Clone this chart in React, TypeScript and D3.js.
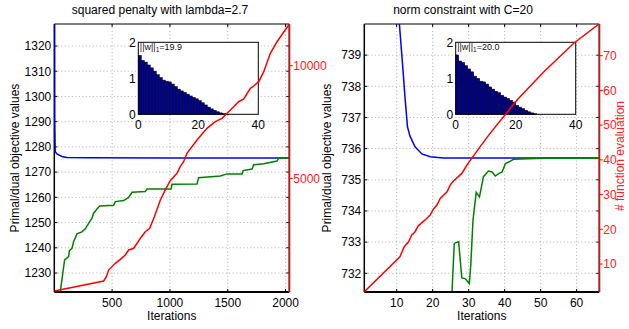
import React from "react";
import * as d3 from "d3";

// ---- data ----
// left panel: squared penalty
const penIter = [1, 4, 8, 23, 66, 110, 300, 1000, 2032];
const penPrimal = [1400, 1290, 1278.1, 1277.2, 1276.2, 1275.8, 1275.7, 1275.6, 1275.6];
const penDualIter = [48, 52, 89, 124, 130, 153, 167, 196, 239, 268, 297, 326, 340, 369, 392, 513, 528, 600, 643, 672, 787, 802, 1009, 1018, 1234, 1248, 1436, 1494, 1624, 1632, 1710, 1724, 1810, 1926, 1940, 2032];
const penDual = [1220, 1222.6, 1235.2, 1236.5, 1238.8, 1239.8, 1242.4, 1245.5, 1246.3, 1247.5, 1249.7, 1251.7, 1253.7, 1255.4, 1256.6, 1256.9, 1258.3, 1258.7, 1260, 1262, 1262.3, 1263.3, 1263.3, 1265.2, 1265.3, 1267.8, 1268.5, 1269.3, 1269.3, 1270.6, 1271.2, 1272.9, 1273.3, 1274.4, 1275.5, 1275.6];
const penEvalIter = [1, 427, 450, 470, 528, 571, 614, 643, 686, 716, 744, 787, 825, 865, 917, 966, 1003, 1061, 1090, 1118, 1147, 1234, 1320, 1392, 1450, 1494, 1551, 1594, 1638, 1696, 1724, 1768, 1811, 1868, 1926, 2032];
const penEval = [0, 440, 630, 925, 1225, 1403, 1594, 1816, 1892, 2114, 2336, 2629, 2780, 3295, 4036, 4556, 4893, 5222, 5530, 5737, 6110, 6700, 7220, 7514, 7664, 7886, 8180, 8401, 8521, 8996, 9098, 9290, 9734, 10550, 11066, 11850];
const penWeights = [1.64, 1.5, 1.45, 1.37, 1.29, 1.2, 1.1, 1.02, 0.95, 0.92, 0.9, 0.84, 0.77, 0.7, 0.65, 0.61, 0.56, 0.51, 0.47, 0.43, 0.38, 0.32, 0.26, 0.2, 0.15, 0.11, 0.07, 0.04, 0.02, 0.01];
const penXTicks = [500, 1000, 1500, 2000];
const penYTicks = [1230, 1240, 1250, 1260, 1270, 1280, 1290, 1300, 1310, 1320];
const penEvalTicks = [5000, 10000];

// right panel: norm constraint
const conIter = [10.5, 10.75, 11.7, 12.3, 13, 13.7, 15.1, 17, 19.3, 23, 66.3];
const conPrimal = [741, 740, 738.6, 737.66, 736.7, 736.4, 736.06, 735.83, 735.74, 735.7, 735.7];
const conDualIter = [25.2, 26, 27.2, 28.1, 29, 30.2, 30.6, 31.2, 32.1, 33, 34.1, 35.5, 36.5, 37.4, 38.3, 39.3, 40.2, 41.6, 42.5, 50.9, 66.3];
const conDual = [731, 732.96, 733.02, 731.85, 731.83, 731.67, 732.3, 733.7, 734.6, 734.45, 735.1, 735.28, 735.25, 735.12, 735.2, 735.25, 735.52, 735.6, 735.66, 735.69, 735.69];
const conEvalIter = [1, 10.9, 12.1, 13.3, 14.2, 15.1, 16, 17.9, 19.3, 20.2, 21.2, 22.1, 24, 24.9, 25.8, 28.1, 29.5, 30.9, 33.2, 36, 39.7, 43.5, 50.9, 59.2, 66.3];
const conEval = [2, 12.1, 15, 16.4, 18.4, 19.3, 21, 22.7, 24.1, 25.8, 27, 28.9, 30.8, 32.8, 33.9, 36.1, 38.5, 40.5, 43.8, 47.7, 52.4, 57.3, 65.4, 73.6, 79.2];
const conWeights = [1.65, 1.48, 1.44, 1.35, 1.26, 1.18, 1.06, 1.0, 0.92, 0.9, 0.84, 0.76, 0.7, 0.64, 0.6, 0.53, 0.48, 0.44, 0.39, 0.34, 0.25, 0.2, 0.16, 0.11, 0.07, 0.04, 0.02];
const conXTicks = [10, 20, 30, 40, 50, 60];
const conYTicks = [732, 733, 734, 735, 736, 737, 738, 739];
const conEvalTicks = [10, 20, 30, 40, 50, 60, 70];

const insetXTicks = [0, 20, 40];
const insetYTicks = [0, 1, 2];

const FONT = "'Liberation Sans', Arial, Helvetica, sans-serif";
const GRID = "#9a9a9a";

const zip = (xs, ys) => xs.map((x, i) => [x, ys[i]]);

const Panel = ({
  id, left, title, titleX, xDomain, yDomain, y2Domain,
  xTicks, yTicks, y2Ticks, primal, dual, evals, weights, normText,
  insetLeft, ylabelX, showY2Label,
}) => {
  const top = 24, bottom = 292, width = 235;
  const x = d3.scaleLinear().domain(xDomain).range([left, left + width]);
  const y = d3.scaleLinear().domain(yDomain).range([bottom, top]);
  const y2 = d3.scaleLinear().domain(y2Domain).range([bottom, top]);
  const line = d3.line().x((d) => x(d[0])).y((d) => y(d[1]));
  const line2 = d3.line().x((d) => x(d[0])).y((d) => y2(d[1]));

  // inset
  const iTop = 42.3, iBottom = 114.3, iW = 120;
  const ix = d3.scaleLinear().domain([0, 40]).range([insetLeft, insetLeft + iW]);
  const iy = d3.scaleLinear().domain([0, 2]).range([iBottom, iTop]);
  const right = left + width;

  return (
    <g fontFamily={FONT}>
      <defs>
        <clipPath id={`clip-${id}`}>
          <rect x={left} y={top} width={width} height={bottom - top} />
        </clipPath>
      </defs>
      <rect x={left} y={top} width={width} height={bottom - top} fill="#fff" />
      {/* grid */}
      {xTicks.map((t) => (
        <line key={`gx${t}`} x1={x(t)} x2={x(t)} y1={top} y2={bottom}
          stroke={GRID} strokeWidth={0.8} strokeDasharray="1,2.5" />
      ))}
      {yTicks.map((t) => (
        <line key={`gy${t}`} x1={left} x2={right} y1={y(t)} y2={y(t)}
          stroke={GRID} strokeWidth={0.8} strokeDasharray="1,2.5" />
      ))}
      {/* axes box */}
      <line x1={left} x2={right} y1={top} y2={top} stroke="#000" strokeWidth={1} />
      <line x1={left} x2={left} y1={top} y2={bottom} stroke="#000" strokeWidth={1.5} />
      {xTicks.map((t) => (
        <g key={`tx${t}`}>
          <line x1={x(t)} x2={x(t)} y1={bottom} y2={bottom - 3} stroke="#000" />
          <line x1={x(t)} x2={x(t)} y1={top} y2={top + 3} stroke="#000" />
          <text x={x(t)} y={bottom + 14.5} fontSize={12} textAnchor="middle" fill="#000">{t}</text>
        </g>
      ))}
      {yTicks.map((t) => (
        <g key={`ty${t}`}>
          <line x1={left} x2={left + 3} y1={y(t)} y2={y(t)} stroke="#000" />
          <line x1={right} x2={right - 3} y1={y(t)} y2={y(t)} stroke="#000" />
          <text x={left - 3} y={y(t)} dy="0.36em" fontSize={12} textAnchor="end" fill="#000">{t}</text>
        </g>
      ))}
      {/* primal/dual */}
      <g clipPath={`url(#clip-${id})`} fill="none">
        <path d={line(primal)} stroke="#0000ff" strokeWidth={1.5} />
        <path d={line(dual)} stroke="#008000" strokeWidth={1.5} />
      </g>
      <line x1={left} x2={right} y1={bottom} y2={bottom} stroke="#000" strokeWidth={2} />
      {/* inset */}
      <rect x={insetLeft} y={iTop} width={iW} height={iBottom - iTop} fill="#fff" />
      {weights.map((w, i) => (
        <rect key={`b${i}`} x={ix(i)} y={iy(w)} width={ix(i + 1) - ix(i)} height={iBottom - iy(w)}
          fill="#00008f" stroke="#000" strokeWidth={0.5} />
      ))}
      <rect x={insetLeft} y={iTop} width={iW} height={iBottom - iTop} fill="none" stroke="#000" strokeWidth={1} />
      {insetXTicks.map((t) => (
        <text key={`ix${t}`} x={ix(t)} y={iBottom + 14.5} fontSize={12} textAnchor="middle">{t}</text>
      ))}
      {insetYTicks.map((t) => (
        <text key={`iy${t}`} x={insetLeft - 2.5} y={iy(t)} dy="0.36em" fontSize={12} textAnchor="end">{t}</text>
      ))}
      <text x={insetLeft + 1.5} y={iTop + 7.5} fontSize={9} fill="#111">
        ||w||<tspan fontSize={6.5} dy={2}>1</tspan><tspan dy={-2}>={normText}</tspan>
      </text>
      {/* function evaluations */}
      <path d={line2(evals)} clipPath={`url(#clip-${id})`} fill="none" stroke="#ff0000" strokeWidth={1.5} />
      <line x1={right} x2={right} y1={top} y2={bottom} stroke="#b02020" strokeWidth={2} />
      {y2Ticks.map((t) => (
        <g key={`t2${t}`}>
          <line x1={right} x2={right + 3.5} y1={y2(t)} y2={y2(t)} stroke="#ff0000" />
          <text x={right + 4} y={y2(t)} dy="0.36em" fontSize={12} fill="#ff2020">{t}</text>
        </g>
      ))}
      {/* labels */}
      <text x={titleX} y={14} fontSize={12} textAnchor="middle">{title}</text>
      <text x={left + width / 2} y={320} fontSize={12} textAnchor="middle">Iterations</text>
      <text transform={`translate(${ylabelX},${(top + bottom) / 2}) rotate(-90)`} fontSize={12}
        textAnchor="middle" dy="0.36em">Primal/dual objective values</text>
      {showY2Label && (
        <text transform={`translate(620,${(top + bottom) / 2 - 2}) rotate(-90)`} fontSize={12}
          textAnchor="middle" dy="0.36em" fill="#ff2020"># function evaluation</text>
      )}
    </g>
  );
};

export default function App() {
  return (
    <svg width={629} height={329} style={{ position: "absolute", left: 0, top: 0, background: "#fff" }}>
      <rect width={629} height={329} fill="#fff" />
      <Panel id="pen" left={54.3} title="squared penalty with lambda=2.7" titleX={160}
        xDomain={[0, 2032]} yDomain={[1222.47, 1328.72]} y2Domain={[-49, 11852]}
        xTicks={penXTicks} yTicks={penYTicks} y2Ticks={penEvalTicks}
        primal={zip(penIter, penPrimal)} dual={zip(penDualIter, penDual)}
        evals={zip(penEvalIter, penEval)} weights={penWeights} normText="19.9"
        insetLeft={138.3} ylabelX={15} showY2Label={false} />
      <Panel id="con" left={364.3} title="norm constraint with C=20" titleX={463}
        xDomain={[1, 66.3]} yDomain={[731.4, 740]} y2Domain={[1.94, 79.13]}
        xTicks={conXTicks} yTicks={conYTicks} y2Ticks={conEvalTicks}
        primal={zip(conIter, conPrimal)} dual={zip(conDualIter, conDual)}
        evals={zip(conEvalIter, conEval)} weights={conWeights} normText="20.0"
        insetLeft={455.7} ylabelX={327} showY2Label={true} />
    </svg>
  );
}
